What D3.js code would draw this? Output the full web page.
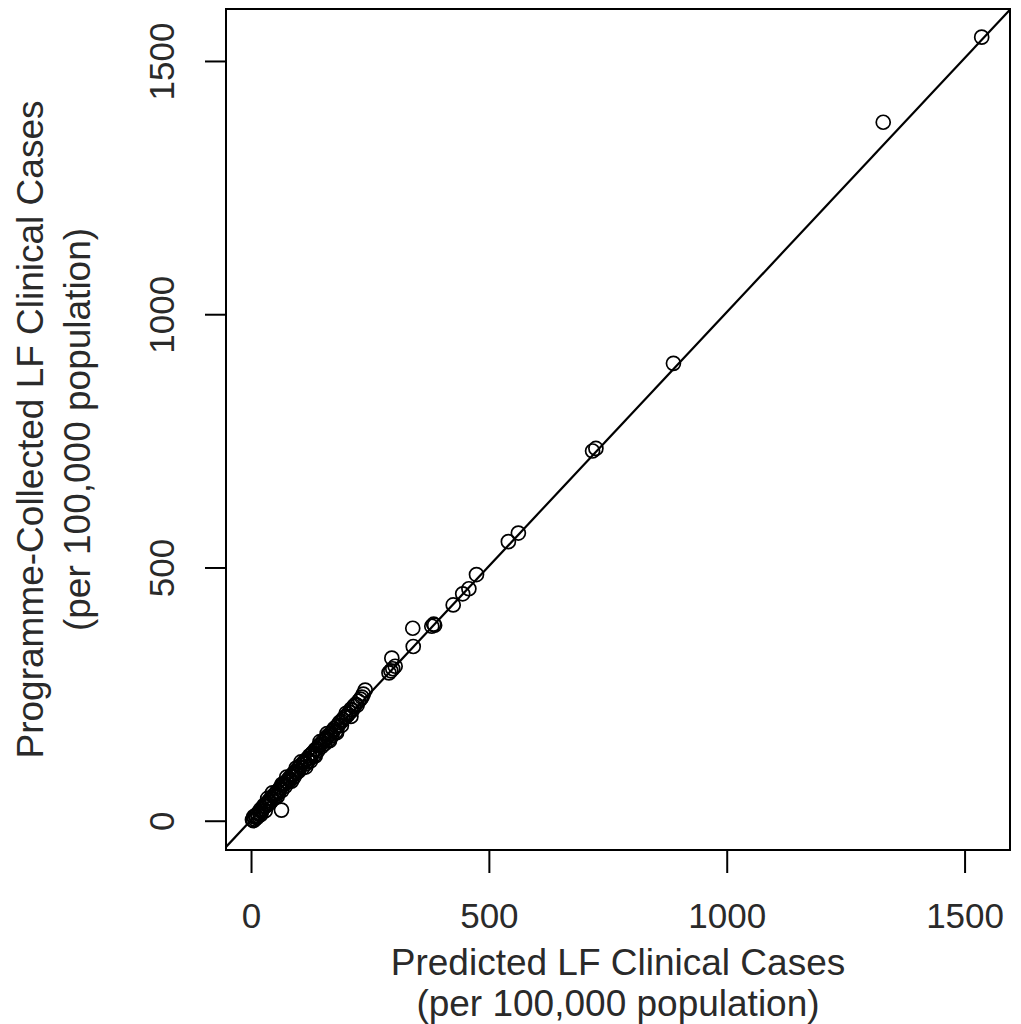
<!DOCTYPE html>
<html>
<head>
<meta charset="utf-8">
<script src="https://cdn.jsdelivr.net/npm/d3@7"></script>
<style>
  html, body { margin: 0; padding: 0; background: #fff; }
  svg { display: block; }
  text { font-family: "Liberation Sans", Arial, sans-serif; fill: #2a2a2a; }
</style>
</head>
<body>
<svg id="chart" width="1021" height="1024"></svg>
<script>
// Predicted (x) vs programme-collected (y) LF clinical cases per 100,000
const predicted = [
  3, 5, 6, 8, 10, 12, 14, 15, 18, 20, 22, 25, 27, 30, 32, 35, 38, 40, 42, 45, 48, 50,
  52, 55, 58, 60, 62, 65, 68, 70, 72, 75, 78, 80, 82, 85, 88, 90, 92, 95, 98, 100,
  103, 105, 108, 110, 113, 115, 118, 120, 123, 125, 128, 130, 133, 135, 138, 140, 143, 145, 148, 150,
  153, 155, 158, 160, 163, 165, 168, 170, 173, 175, 178, 180, 183, 186, 190, 193, 197, 200,
  204, 207, 210, 213, 216, 220, 223, 226, 230, 233, 236, 240,
  20, 30, 35, 45, 55, 65, 75, 85, 95, 105, 115, 125, 135, 145, 160, 165, 180, 190, 200, 210,
  64,
  290, 294, 298, 303, 296, 341, 340, 380, 384, 386, 425, 445, 458, 474,
  541, 562, 718, 725, 888, 1329, 1536
];
const observed = [
  2, 0, 8, 3, 10, 6, 14, 10, 16, 22, 18, 24, 30, 28, 34, 32, 40, 36, 44, 42, 50, 46,
  54, 58, 55, 62, 66, 60, 70, 74, 68, 78, 76, 84, 80, 88, 92, 86, 96, 94, 102, 98,
  106, 110, 104, 114, 118, 112, 122, 118, 128, 124, 132, 134, 130, 140, 142, 138, 148, 150, 146, 155,
  158, 152, 162, 166, 160, 170, 172, 168, 178, 182, 176, 186, 188, 194, 196, 200, 204, 206,
  210, 214, 220, 218, 226, 230, 228, 236, 240, 244, 250, 258,
  12, 20, 44, 55, 48, 72, 86, 78, 104, 116, 106, 118, 128, 156, 172, 158, 174, 188, 212, 206,
  21,
  292, 296, 300, 305, 321, 344, 380, 384, 388, 386, 426, 448, 458, 486,
  551, 568, 730, 735, 903, 1379, 1547
];
const xTicks = [0, 500, 1000, 1500];
const yTicks = [0, 500, 1000, 1500];
const fitSlope = 1.003;
const fitIntercept = 1;
const xTitle = ["Predicted LF Clinical Cases", "(per 100,000 population)"];
const yTitle = ["Programme-Collected LF Clinical Cases", "(per 100,000 population)"];

const FS = 35;
const TFS = 37;
const svg = d3.select("#chart");
const box = { left: 226, right: 1010, top: 9, bottom: 850 };
const x = d3.scaleLinear().domain([-52.6, 1595.5]).range([box.left, box.right]);
const y = d3.scaleLinear().domain([-57.8, 1602.6]).range([box.bottom, box.top]);

svg.append("rect").attr("width", 1021).attr("height", 1024).attr("fill", "#fff");

svg.append("defs").append("clipPath").attr("id", "clip")
  .append("rect")
  .attr("x", box.left).attr("y", box.top)
  .attr("width", box.right - box.left).attr("height", box.bottom - box.top);

// Points
const pts = predicted.map((p, i) => ({ p, o: observed[i] }));
svg.append("g").attr("clip-path", "url(#clip)")
  .selectAll("circle").data(pts).join("circle")
  .attr("cx", d => x(d.p)).attr("cy", d => y(d.o))
  .attr("r", 7)
  .attr("fill", "none").attr("stroke", "#000").attr("stroke-width", 1.7);

// Regression line
const xd = x.domain();
svg.append("line").attr("clip-path", "url(#clip)")
  .attr("x1", x(xd[0])).attr("y1", y(fitIntercept + fitSlope * xd[0]))
  .attr("x2", x(xd[1])).attr("y2", y(fitIntercept + fitSlope * xd[1]))
  .attr("stroke", "#000").attr("stroke-width", 2.2);

// Box
svg.append("rect")
  .attr("x", box.left).attr("y", box.top)
  .attr("width", box.right - box.left).attr("height", box.bottom - box.top)
  .attr("fill", "none").attr("stroke", "#000").attr("stroke-width", 2);

// X axis
const xAxis = d3.axisBottom(x).tickValues(xTicks).tickSize(23).tickPadding(0).tickFormat(d3.format("d"));
const gx = svg.append("g").attr("transform", `translate(0,${box.bottom})`).call(xAxis);
gx.select(".domain").remove();
gx.selectAll(".tick line").attr("stroke", "#000").attr("stroke-width", 2);
gx.selectAll(".tick text")
  .attr("y", 78).attr("dy", null)
  .attr("font-size", FS).attr("fill", "#2a2a2a")
  .style("font-family", '"Liberation Sans", Arial, sans-serif');

// Y axis
const yAxis = d3.axisLeft(y).tickValues(yTicks).tickSize(21).tickPadding(0).tickFormat(d3.format("d"));
const gy = svg.append("g").attr("transform", `translate(${box.left},0)`).call(yAxis);
gy.select(".domain").remove();
gy.selectAll(".tick line").attr("stroke", "#000").attr("stroke-width", 2);
gy.selectAll(".tick text")
  .attr("x", null).attr("dy", null)
  .attr("text-anchor", "middle")
  .attr("transform", "translate(-52,0) rotate(-90)")
  .attr("font-size", FS).attr("fill", "#2a2a2a")
  .style("font-family", '"Liberation Sans", Arial, sans-serif');

// Axis titles
const cx = (box.left + box.right) / 2;
svg.append("text").attr("x", cx).attr("y", 975).attr("text-anchor", "middle")
  .attr("font-size", TFS).text(xTitle[0]);
svg.append("text").attr("x", cx).attr("y", 1016).attr("text-anchor", "middle")
  .attr("font-size", TFS).text(xTitle[1]);

const cy = (box.top + box.bottom) / 2;
svg.append("text").attr("transform", `translate(43,${cy}) rotate(-90)`).attr("text-anchor", "middle")
  .attr("font-size", TFS).text(yTitle[0]);
svg.append("text").attr("transform", `translate(90,${cy}) rotate(-90)`).attr("text-anchor", "middle")
  .attr("font-size", TFS).text(yTitle[1]);
</script>
</body>
</html>
